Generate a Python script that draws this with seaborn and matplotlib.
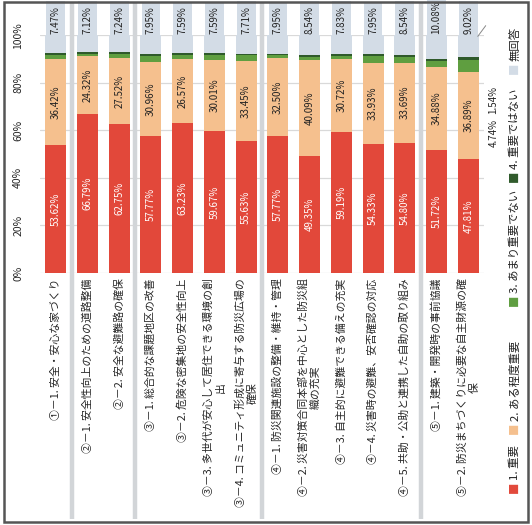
import matplotlib
matplotlib.use("Agg")
import matplotlib.pyplot as plt
import matplotlib.transforms as mtransforms
import seaborn as sns
import numpy as np
import pandas as pd

# ---------------- data ----------------
categories = [
    "①－1. 安全・安心な家づくり",
    "②－1. 安全性向上のための道路整備",
    "②－2. 安全な避難路の確保",
    "③－1. 総合的な課題地区の改善",
    "③－2. 危険な密集地の安全性向上",
    "③－3. 多世代が安心して居住できる環境の創\n出",
    "③－4. コミュニティ形成に寄与する防災広場の\n確保",
    "④－1. 防災関連施設の整備・維持・管理",
    "④－2. 災害対策合同本部を中心とした防災組\n織の充実",
    "④－3. 自主的に避難できる備えの充実",
    "④－4. 災害時の避難、安否確認の対応",
    "④－5. 共助・公助と連携した自助の取り組み",
    "⑤－1. 建築・開発時の事前協議",
    "⑤－2. 防災まちづくりに必要な自主財源の確\n保",
]
important     = [53.62, 66.79, 62.75, 57.77, 63.23, 59.67, 55.63, 57.77, 49.35, 59.19, 54.33, 54.80, 51.72, 47.81]
somewhat      = [36.42, 24.32, 27.52, 30.96, 26.57, 30.01, 33.45, 32.50, 40.09, 30.72, 33.93, 33.69, 34.88, 36.89]
not_very      = [1.66, 1.18, 1.66, 2.49, 1.74, 1.82, 2.41, 1.19, 1.35, 1.51, 2.84, 2.23, 2.49, 4.74]
not_important = [0.83, 0.59, 0.83, 0.83, 0.87, 0.91, 0.80, 0.59, 0.67, 0.75, 0.95, 0.74, 0.83, 1.54]
no_answer     = [7.47, 7.12, 7.24, 7.95, 7.59, 7.59, 7.71, 7.95, 8.54, 7.83, 7.95, 8.54, 10.08, 9.02]
series_names  = ["1. 重要", "2. ある程度重要", "3. あまり重要でない", "4. 重要ではない", "無回答"]
y_ticks       = [0, 20, 40, 60, 80, 100]
group_breaks  = [0.5, 2.5, 6.5, 11.5]

colors = ["#e2483a", "#f5c08e", "#5f9e40", "#2f5a2b", "#d3dce6"]

# ---------------- figure ----------------
sns.set_theme(style="white")
plt.rcParams["font.family"] = ["Noto Sans CJK JP", "DejaVu Sans"]

fig = plt.figure(figsize=(5.32, 5.25), dpi=100)
ax = fig.add_axes([0.075, 0.48, 0.835, 0.453])

df = pd.DataFrame({
    "cat": categories,
    "s1": important, "s2": somewhat, "s3": not_very, "s4": not_important, "s5": no_answer,
})
cols = ["s1", "s2", "s3", "s4", "s5"]
cum = df[cols].cumsum(axis=1)

# draw back-to-front so stacked segments show
for i in range(len(cols) - 1, -1, -1):
    tmp = pd.DataFrame({"cat": df["cat"], "v": cum[cols[i]]})
    sns.barplot(data=tmp, x="cat", y="v", order=categories, color=colors[i],
                width=0.66, errorbar=None, ax=ax, saturation=1, zorder=3,
                linewidth=0)

ax.set_ylim(0, 100)
ax.set_xlim(-0.5, len(categories) - 0.5)
ax.set_yticks(y_ticks)
ax.set_yticklabels([f"{v}%" for v in y_ticks], rotation=90, va="center", fontsize=7.5)
ax.set_xticks(range(len(categories)))
ax.set_xticklabels(categories, rotation=90, fontsize=7.8, multialignment="center",
                   color="#262626")
ax.tick_params(axis="both", length=0, pad=4)
ax.tick_params(axis="y", pad=12)
ax.set_xlabel("")
ax.set_ylabel("")
ax.grid(axis="y", color="#d9d9d9", linewidth=0.9, zorder=0)
ax.set_axisbelow(True)
for s in ax.spines.values():
    s.set_visible(False)

# ---------------- value labels ----------------
for i in range(len(categories)):
    b1 = important[i]
    ax.text(i, b1 / 2, f"{important[i]:.2f}%", rotation=90, ha="center", va="center",
            fontsize=7, color="white", zorder=5)
    ax.text(i, b1 + somewhat[i] / 2, f"{somewhat[i]:.2f}%", rotation=90, ha="center",
            va="center", fontsize=7, color="#222222", zorder=5)
    ax.text(i, 100.6, f"{no_answer[i]:.2f}%", rotation=90, ha="center", va="bottom",
            fontsize=7, color="#222222", zorder=5, clip_on=False,
            bbox=dict(boxstyle="square,pad=0.45", facecolor=colors[4], edgecolor="none"))

last = len(categories) - 1
ax.text(last + 0.79, 59, f"{not_very[last]:.2f}%", rotation=90, ha="center", va="center",
        fontsize=7, color="#222222", clip_on=False)
ax.text(last + 0.79, 72.7, f"{not_important[last]:.2f}%", rotation=90, ha="center",
        va="center", fontsize=7, color="#222222", clip_on=False)
ax.plot([last + 0.3, last + 0.55], [99.5, 104], color="#888888", lw=0.7, clip_on=False, zorder=6)

# ---------------- group separators ----------------
trans = mtransforms.blended_transform_factory(ax.transData, fig.transFigure)
for gx in group_breaks:
    ax.plot([gx, gx], [0.012, 0.995], transform=trans, color="#d2d5d8", lw=3.2,
            clip_on=False, zorder=1, solid_capstyle="butt")

# ---------------- legend (rotated, manual) ----------------
legend_marker_px = [487, 428, 300, 176, 68]   # vertical pixel position of each marker
x_fig = 0.968
for name, col, ypx in zip(series_names, colors, legend_marker_px):
    fig.text(x_fig, (525 - ypx) / 525, "■", rotation=90, ha="center", va="center",
             fontsize=8.2, color=col)
    fig.text(x_fig, (525 - ypx + 7) / 525, name, rotation=90, ha="center", va="bottom",
             fontsize=8.2, color="#222222")

# ---------------- outer frame ----------------
frame = plt.Rectangle((0.008, 0.006), 0.985, 0.99, transform=fig.transFigure,
                      fill=False, edgecolor="#555555", lw=1.8)
fig.patches.append(frame)

fig.savefig("out.png", dpi=100)
